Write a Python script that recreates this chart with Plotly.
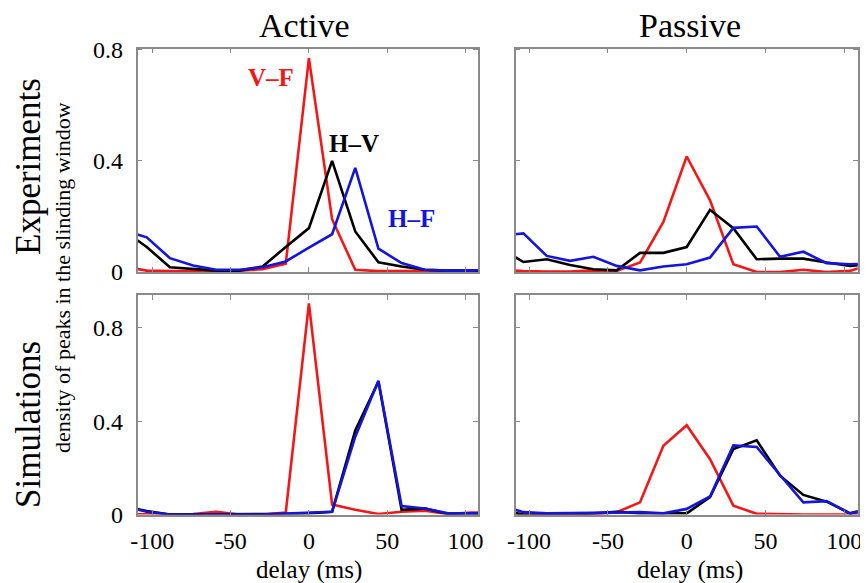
import plotly.graph_objects as go

# delay bins (ms): k * 14.8 for k = -8..8
bin_index = list(range(-8, 9))
delay = [k * 14.8 for k in bin_index]

# Experiments, Active
exp_act_VF = [0.02, 0.005, 0.003, 0.002, 0.003, 0.005, 0.01, 0.03, 0.77, 0.19, 0.008, 0.003, 0.003, 0.003, 0.003, 0.003, 0.005]
exp_act_HV = [0.15, 0.09, 0.017, 0.01, 0.005, 0.005, 0.02, 0.09, 0.158, 0.40, 0.146, 0.035, 0.02, 0.008, 0.005, 0.005, 0.005]
exp_act_HF = [0.15, 0.125, 0.05, 0.023, 0.008, 0.008, 0.017, 0.038, 0.088, 0.136, 0.375, 0.084, 0.032, 0.008, 0.005, 0.005, 0.01]

# Experiments, Passive
exp_pas_VF = [0.008, 0.003, 0.002, 0.002, 0.006, 0.004, 0.034, 0.18, 0.416, 0.258, 0.028, 0.0, 0.0, 0.008, 0.0, 0.004, 0.03]
exp_pas_HV = [0.085, 0.036, 0.046, 0.025, 0.01, 0.006, 0.069, 0.069, 0.09, 0.224, 0.158, 0.046, 0.048, 0.048, 0.034, 0.022, 0.03]
exp_pas_HF = [0.13, 0.139, 0.058, 0.04, 0.055, 0.022, 0.006, 0.02, 0.028, 0.052, 0.159, 0.164, 0.055, 0.073, 0.032, 0.028, 0.03]

# Simulations, Active
sim_act_VF = [0.0, 0.0, 0.002, 0.002, 0.012, 0.0, 0.0, 0.008, 0.904, 0.043, 0.02, 0.002, 0.012, 0.016, 0.002, 0.008, 0.008]
sim_act_HV = [0.035, 0.015, 0.0, 0.0, 0.0, 0.0, 0.0, 0.002, 0.005, 0.012, 0.36, 0.569, 0.02, 0.026, 0.002, 0.0, 0.0]
sim_act_HF = [0.035, 0.012, 0.0, 0.0, 0.0, 0.0, 0.0, 0.004, 0.008, 0.012, 0.333, 0.573, 0.036, 0.026, 0.005, 0.005, 0.005]

# Simulations, Passive
sim_pas_VF = [0.0, 0.0, 0.0, 0.0, 0.0, 0.01, 0.052, 0.294, 0.382, 0.237, 0.038, 0.003, 0.0, 0.0, 0.0, 0.0, 0.0]
sim_pas_HV = [0.02, 0.0, 0.0, 0.0, 0.005, 0.012, 0.005, 0.005, 0.005, 0.074, 0.28, 0.318, 0.166, 0.084, 0.055, 0.005, 0.03]
sim_pas_HF = [0.04, 0.01, 0.005, 0.005, 0.005, 0.008, 0.01, 0.005, 0.024, 0.077, 0.296, 0.289, 0.169, 0.052, 0.057, 0.005, 0.02]

x_tick_vals = [-100, -50, 0, 50, 100]
x_tick_text = ["-100", "-50", "0", "50", "100"]
y_tick_vals = [0, 0.4, 0.8]
y_tick_text = ["0", "0.4", "0.8"]

RED = "#f01818"
BLACK = "#000000"
BLUE = "#1515d8"
FONT = "Liberation Serif"
AXC = "#8a8a8a"

# page has an 8px body margin: figure is 860x575 placed at (8, 8)
OFF = 8
FW, FH = 860, 575
def px(X):
    return (X - OFF) / FW
def py(Y):
    return 1 - (Y - OFF) / FH

fig = go.Figure()

panels = [
    ("x", "y", exp_act_VF, exp_act_HV, exp_act_HF),
    ("x2", "y2", exp_pas_VF, exp_pas_HV, exp_pas_HF),
    ("x3", "y3", sim_act_VF, sim_act_HV, sim_act_HF),
    ("x4", "y4", sim_pas_VF, sim_pas_HV, sim_pas_HF),
]
for xa, ya, vf, hv, hf in panels:
    for vals, col in ((vf, RED), (hv, BLACK), (hf, BLUE)):
        fig.add_trace(go.Scatter(x=delay, y=vals, xaxis=xa, yaxis=ya, mode="lines",
                                 line=dict(color=col, width=2.6), showlegend=False,
                                 hoverinfo="skip"))

common_x = dict(tickvals=x_tick_vals, ticktext=x_tick_text, ticks="inside", ticklen=5,
                tickcolor=AXC, showline=True, linecolor=AXC, linewidth=1.5,
                mirror="allticks", showgrid=False, zeroline=False, automargin=False,
                ticklabelstandoff=4,
                tickfont=dict(family=FONT, size=24, color="black"))
common_y = dict(tickvals=y_tick_vals, ticktext=y_tick_text, ticks="inside", ticklen=5,
                tickcolor=AXC, showline=True, linecolor=AXC, linewidth=1.5,
                mirror="allticks", showgrid=False, zeroline=False, automargin=False,
                ticklabelstandoff=8,
                tickfont=dict(family=FONT, size=24, color="black"))

xl = [px(137.5), px(478)]
xr = [px(515.7), px(857.7)]
yt = [py(272), py(48.5)]
yb = [py(514.5), py(295)]

fig.update_layout(
    template="none",
    width=FW, height=FH, autosize=False,
    margin=dict(l=0, r=0, t=0, b=0, pad=0),
    paper_bgcolor="white", plot_bgcolor="white",
    xaxis=dict(common_x, domain=xl, range=[-109.5, 108], anchor="y", showticklabels=False),
    yaxis=dict(common_y, domain=yt, range=[0, 0.805], anchor="x", showticklabels=True),
    xaxis2=dict(common_x, domain=xr, range=[-108.5, 108.5], anchor="y2", showticklabels=False),
    yaxis2=dict(common_y, domain=yt, range=[0, 0.805], anchor="x2", showticklabels=False),
    xaxis3=dict(common_x, domain=xl, range=[-109.5, 108], anchor="y3", showticklabels=True),
    yaxis3=dict(common_y, domain=yb, range=[0, 0.94], anchor="x3", showticklabels=True),
    xaxis4=dict(common_x, domain=xr, range=[-108.5, 108.5], anchor="y4", showticklabels=True),
    yaxis4=dict(common_y, domain=yb, range=[0, 0.94], anchor="x4", showticklabels=False),
)

ann = []
def txt(X, Y, s, size, color="black", angle=0, bold=False):
    ann.append(dict(x=px(X), y=py(Y), xref="paper", yref="paper",
                    text=("<b>%s</b>" % s) if bold else s,
                    showarrow=False, textangle=angle, xanchor="center", yanchor="middle",
                    font=dict(family=FONT, size=size, color=color)))

txt(304, 25, "Active", 34)
txt(690, 25, "Passive", 34)
txt(28, 167, "Experiments", 35, angle=-90)
txt(28, 425, "Simulations", 35, angle=-90)
txt(62, 278, "density of peaks in the slinding window", 22, angle=-90)
txt(309, 570, "delay (ms)", 25)
txt(690, 570, "delay (ms)", 25)
txt(270.5, 77, "V\u2013F", 25, color=RED, bold=True)
txt(354, 143, "H\u2013V", 25, color=BLACK, bold=True)
txt(411.5, 218, "H\u2013F", 25, color=BLUE, bold=True)
fig.update_layout(annotations=ann)

fig.write_html("out.html")
